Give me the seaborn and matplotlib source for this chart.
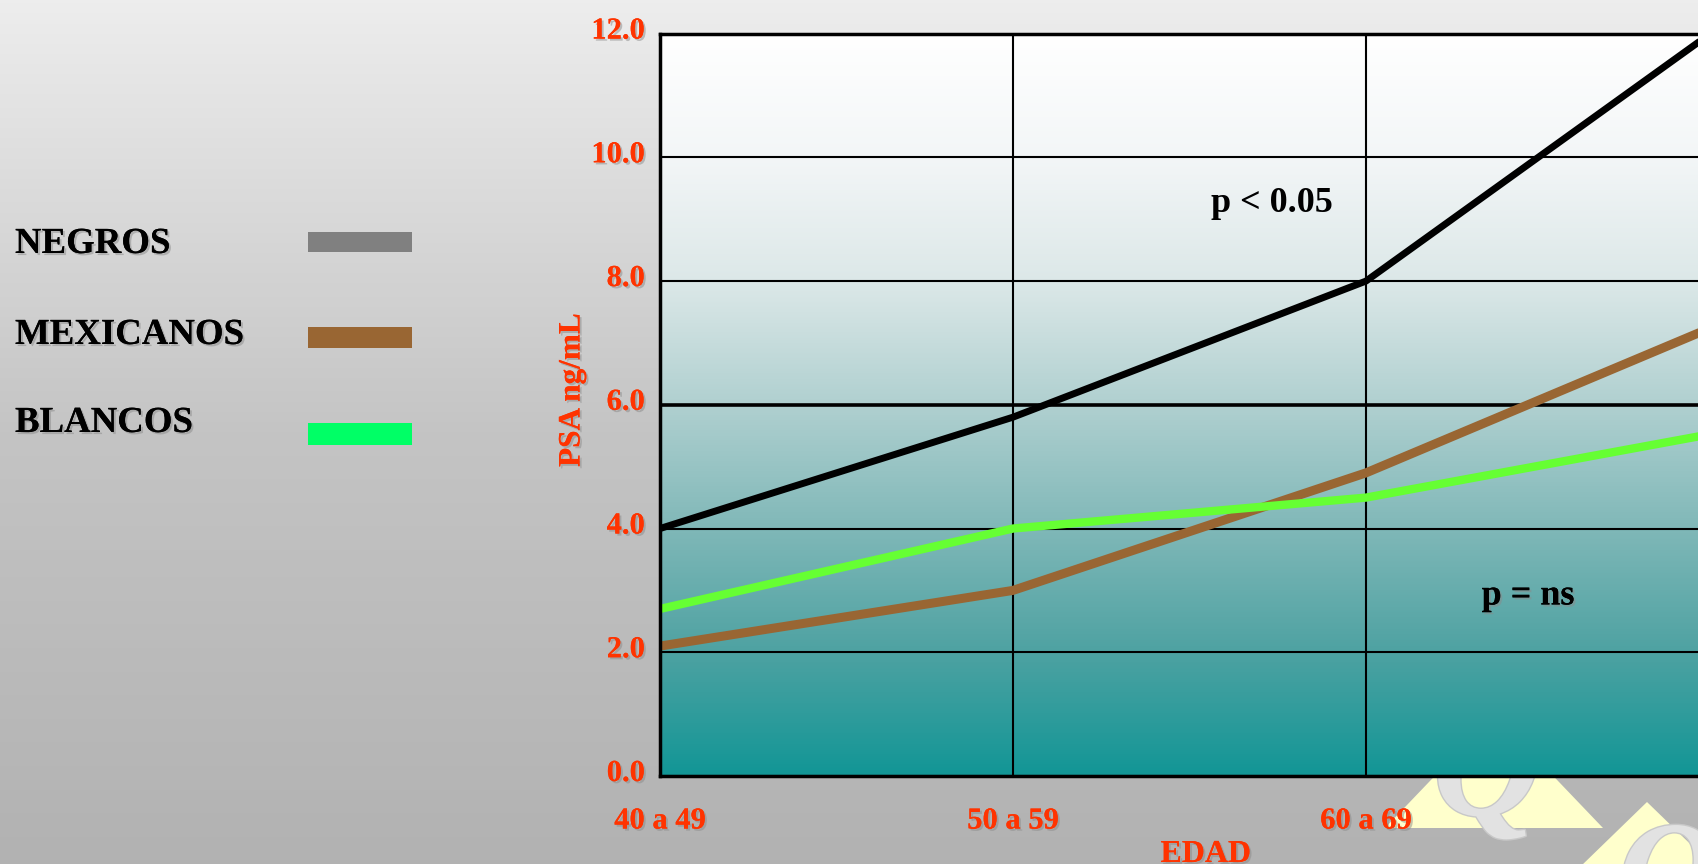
import numpy as np
import pandas as pd
import matplotlib
matplotlib.use("Agg")
import matplotlib.pyplot as plt
import seaborn as sns
from matplotlib.colors import LinearSegmentedColormap
from matplotlib.patches import Rectangle, Polygon
import matplotlib.patheffects as pe
from matplotlib.transforms import ScaledTranslation

# ---- data ----
categories = ["40 a 49", "50 a 59", "60 a 69", "70 a 79"]
negros = [4.0, 5.8, 8.0, 12.1]
mexicanos = [2.1, 3.0, 4.9, 7.3]
blancos = [2.7, 4.0, 4.5, 5.55]
series_names = ["NEGROS", "MEXICANOS", "BLANCOS"]
line_colors = ["#000000", "#996633", "#66ff33"]
legend_colors = ["#808080", "#996633", "#00ff66"]
yticks = [0, 2, 4, 6, 8, 10, 12]
ytick_labels = ["0.0", "2.0", "4.0", "6.0", "8.0", "10.0", "12.0"]
xtick_labels = categories[:3]
annotations = ["p < 0.05", "p = ns"]

sns.set_theme(style="white")
plt.rcParams["font.family"] = ["Liberation Serif", "DejaVu Serif"]
plt.rcParams["font.weight"] = "bold"

W, H = 1699, 864
fig = plt.figure(figsize=(W / 100, H / 100), dpi=100)

shadow = [pe.withSimplePatchShadow(offset=(1.5, -1.5), shadow_rgbFace="#8a8a8a", alpha=0.5), pe.Normal()]

# ---- background axes (pixel coordinates) ----
bg = fig.add_axes([0, 0, 1, 1])
bg.set_axis_off()
bg.set_xlim(0, W)
bg.set_ylim(H, 0)
grad = np.linspace(0, 1, 256)[:, None]
bg_cmap = LinearSegmentedColormap.from_list("bg", ["#ededed", "#c4c4c4", "#b2b2b2"])
bg.imshow(grad, cmap=bg_cmap, extent=[0, W, H, 0], aspect="auto", zorder=0)

# decorative logo triangles
bg.add_patch(Polygon([(1385, 828), (1494, 714), (1603, 828)], closed=True,
                     facecolor="#ffffcc", edgecolor="none", zorder=1))
bg.add_patch(Polygon([(1580, 867), (1647, 802), (1714, 867)], closed=True,
                     facecolor="#ffffcc", edgecolor="none", zorder=1))
qfx = [pe.withStroke(linewidth=2, foreground="#c8c8c8")]
bg.text(1487, 815, "Q", fontsize=108, color="#e2e2e2", style="italic", weight="bold",
        ha="center", va="baseline", zorder=2, path_effects=qfx)
bg.text(1668, 917, "Q", fontsize=100, color="#e2e2e2", style="italic", weight="bold",
        ha="center", va="baseline", zorder=2, path_effects=qfx)

# legend (manual, as in the slide)
legend_baselines = [253, 344, 432]
legend_rects = [(232, 252), (327, 348), (423, 445)]
for name, col, yb, (r0, r1) in zip(series_names, legend_colors, legend_baselines, legend_rects):
    bg.text(15, yb, name, fontsize=26.5, color="black", weight="bold", ha="left",
            va="baseline", path_effects=shadow, zorder=3)
    bg.add_patch(Rectangle((308, r0), 104, r1 - r0, facecolor=col, edgecolor="none", zorder=3))

# ---- main plot axes ----
left, right, top, bottom = 660, 1719, 33.6, 776
ax = fig.add_axes([left / W, 1 - bottom / H, (right - left) / W, (bottom - top) / H])

pcmap = LinearSegmentedColormap.from_list(
    "plot",
    [(0.0, (18/255, 150/255, 150/255)),
     (2/12, (78/255, 162/255, 162/255)),
     (4/12, (128/255, 184/255, 184/255)),
     (6/12, (176/255, 208/255, 208/255)),
     (8/12, (220/255, 232/255, 232/255)),
     (10/12, (243/255, 246/255, 247/255)),
     (1.0, (1, 1, 1))])
ax.imshow(grad, cmap=pcmap, extent=[0, 3, 0, 12], origin="lower", aspect="auto", zorder=0)

x = list(range(len(categories)))
df = pd.DataFrame({
    "pos": x * 3,
    "value": negros + mexicanos + blancos,
    "serie": [series_names[0]] * 4 + [series_names[1]] * 4 + [series_names[2]] * 4,
})
widths = [5.0, 6.5, 6.0]
for name, col, lw in zip(series_names, line_colors, widths):
    sub = df[df["serie"] == name]
    sns.lineplot(data=sub, x="pos", y="value", color=col, linewidth=lw, ax=ax,
                 legend=False, zorder=3, solid_capstyle="round", solid_joinstyle="round")

ax.set_xlim(0, 3)
ax.set_ylim(0, 12)
ax.set_xticks([0, 1, 2])
ax.set_xticklabels(xtick_labels)
ax.set_yticks(yticks)
ax.set_yticklabels(ytick_labels)
ax.grid(True, color="black", linewidth=1.5)
ax.set_axisbelow(False)
for line in ax.get_xgridlines() + ax.get_ygridlines():
    line.set_zorder(1)
ax.get_ygridlines()[3].set_linewidth(2.6)
for s in ax.spines.values():
    s.set_color("black")
    s.set_linewidth(2.5)
    s.set_zorder(4)

red = "#ff3300"
ax.tick_params(axis="both", length=0, labelsize=22, labelcolor=red)
ax.tick_params(axis="y", pad=11)
ax.tick_params(axis="x", pad=22)
for t in ax.get_yticklabels() + ax.get_xticklabels():
    t.set_fontweight("bold")
    t.set_path_effects(shadow)
off = ScaledTranslation(0, 0.06, fig.dpi_scale_trans)
for t in ax.get_yticklabels():
    t.set_transform(t.get_transform() + off)

ax.set_xlabel("EDAD", fontsize=23, color=red, weight="bold")
ax.xaxis.label.set_path_effects(shadow)
ax.xaxis.set_label_coords((1206 - left) / (right - left), -(840 - bottom) / (bottom - top))
ax.set_ylabel("PSA ng/mL", fontsize=22.5, color=red, weight="bold", va="center")
ax.yaxis.label.set_path_effects(shadow)
ax.yaxis.set_label_coords((572 - left) / (right - left), (bottom - 390) / (bottom - top))

ax.text(1.734, 9.26, annotations[0], fontsize=26, weight="bold", color="black",
        ha="center", va="center", zorder=5)
ax.text(2.459, 2.91, annotations[1], fontsize=26, weight="bold", color="black",
        ha="center", va="center", zorder=5, path_effects=shadow)

fig.savefig("out.png", dpi=100)
